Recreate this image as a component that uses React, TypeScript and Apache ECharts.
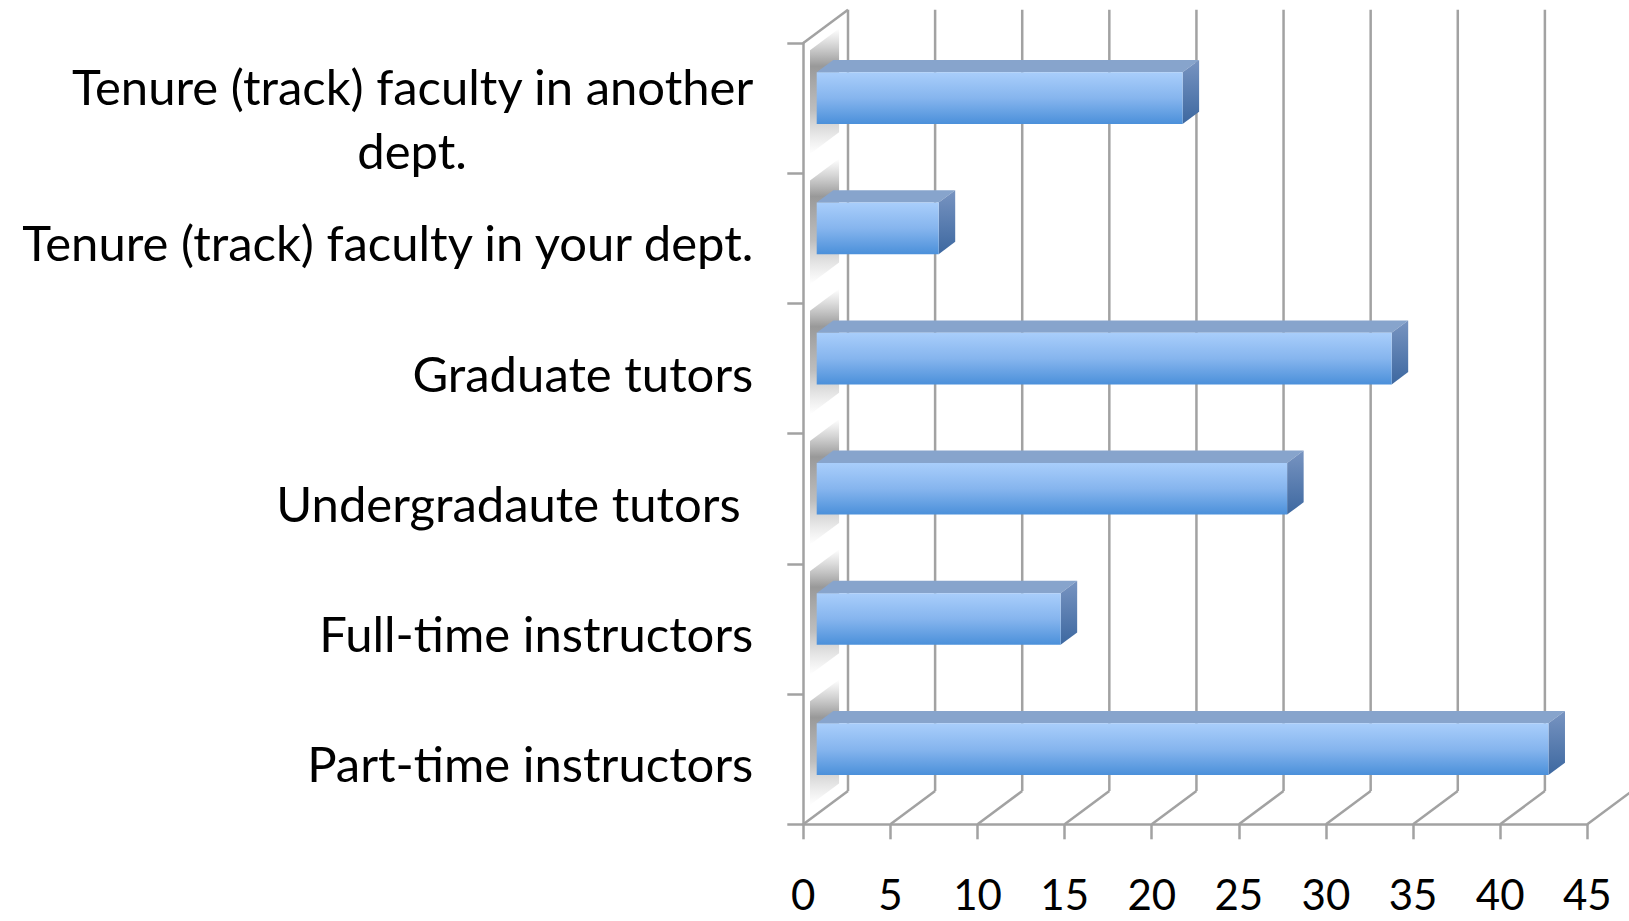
import React, { useEffect, useRef } from "react";
import * as echarts from "echarts";

const categories = [
  "Tenure (track) faculty in another\ndept.",
  "Tenure (track) faculty in your dept.",
  "Graduate tutors",
  "Undergradaute tutors ",
  "Full-time instructors",
  "Part-time instructors",
];
const values = [21, 7, 33, 27, 14, 42];
const xTicks = [0, 5, 10, 15, 20, 25, 30, 35, 40, 45];

const DX = 44.7;
const DY = -33.3;
const F_FRONT = 0.3;
const F_BACK = 0.67;
const BAR_RATIO = 0.397;
const GRID_COLOR = "#a2a2a2";
const FONT = "Lato";
const CAT_SIZE = 49;

export default function App() {
  const ref = useRef<HTMLDivElement>(null);
  useEffect(() => {
    if (!ref.current) return;
    const chart = echarts.init(ref.current, null, { renderer: "svg" });

    const gridRender = (params: any, api: any) => {
      const v = api.value(0);
      const cs = params.coordSys;
      const p = api.coord([v, 0]);
      const x = p[0];
      const top = cs.y;
      const bottom = cs.y + cs.height;
      const st = { stroke: GRID_COLOR, lineWidth: 2.5 };
      const children: any[] = [
        { type: "line", shape: { x1: x + DX, y1: top + DY, x2: x + DX, y2: bottom + DY }, style: st },
        { type: "line", shape: { x1: x, y1: bottom, x2: x + DX, y2: bottom + DY }, style: st },
      ];
      if (v === 0) {
        children.push({ type: "line", shape: { x1: x, y1: top, x2: x + DX, y2: top + DY }, style: st });
      }
      return { type: "group", children };
    };

    const barRender = (params: any, api: any) => {
      const v = api.value(0);
      const c = api.value(1);
      const p0 = api.coord([0, c]);
      const p1 = api.coord([v, c]);
      const band = api.size([0, 1])[1];
      const h = (band * BAR_RATIO) / 2;
      const yT = p0[1] - h;
      const yB = p0[1] + h;
      const xa = p0[0];
      const xb = p1[0];
      const fx = DX * F_FRONT, fy = DY * F_FRONT;
      const bx = DX * F_BACK, by = DY * F_BACK;
      const s1 = 0.15, s2 = 0.8;
      return {
        type: "group",
        children: [
          {
            type: "polygon",
            shape: {
              points: [
                [xa + DX * s1, yT - 27 + DY * s1],
                [xa + DX * s2, yT - 27 + DY * s2],
                [xa + DX * s2, yB + 25 + DY * s2],
                [xa + DX * s1, yB + 25 + DY * s1],
              ],
            },
            style: {
              fill: new echarts.graphic.LinearGradient(0, 0, 0, 1, [
                { offset: 0, color: "rgba(110,110,110,0)" },
                { offset: 0.3, color: "rgba(90,90,90,0.62)" },
                { offset: 0.65, color: "rgba(110,110,110,0.45)" },
                { offset: 1, color: "rgba(150,150,150,0)" },
              ]),
            },
          },
          {
            type: "polygon",
            shape: {
              points: [
                [xa + fx, yT + fy],
                [xb + fx, yT + fy],
                [xb + bx, yT + by],
                [xa + bx, yT + by],
              ],
            },
            style: { fill: "#87a4cc" },
          },
          {
            type: "polygon",
            shape: {
              points: [
                [xb + fx, yT + fy],
                [xb + bx, yT + by],
                [xb + bx, yB + by],
                [xb + fx, yB + fy],
              ],
            },
            style: {
              fill: new echarts.graphic.LinearGradient(0, 0, 0, 1, [
                { offset: 0, color: "#7894c1" },
                { offset: 1, color: "#3d68a0" },
              ]),
            },
          },
          {
            type: "rect",
            shape: { x: xa + fx, y: yT + fy, width: xb - xa, height: yB - yT },
            style: {
              fill: new echarts.graphic.LinearGradient(0, 0, 0, 1, [
                { offset: 0, color: "#a9cefb" },
                { offset: 0.5, color: "#86b5ee" },
                { offset: 1, color: "#4b90da" },
              ]),
            },
          },
        ],
      };
    };

    chart.setOption({
      animation: false,
      backgroundColor: "#ffffff",
      grid: {
        left: 803.3,
        right: 41.7,
        top: 43,
        bottom: 96.7,
        containLabel: false,
        outerBoundsMode: "none",
      },
      xAxis: {
        type: "value",
        min: 0,
        max: 45,
        interval: 5,
        splitLine: { show: false },
        axisLine: { show: true, lineStyle: { color: GRID_COLOR, width: 2.5 } },
        axisTick: { show: true, length: 15, lineStyle: { color: GRID_COLOR, width: 2.5 } },
        axisLabel: {
          margin: 52,
          color: "#000",
          fontSize: 42,
          lineHeight: 36,
          fontFamily: FONT,
          formatter: (v: number) => String(v),
        },
      },
      yAxis: {
        type: "category",
        inverse: true,
        data: categories.map((c, i) =>
          i === 0
            ? { value: c, textStyle: { padding: [20, 0, 0, 0] } }
            : { value: c, textStyle: { padding: [8, 0, 0, 0] } }
        ),
        axisLine: { show: true, lineStyle: { color: GRID_COLOR, width: 2.5 } },
        axisTick: { show: true, length: 16, lineStyle: { color: GRID_COLOR, width: 2.5 } },
        splitLine: { show: false },
        axisLabel: {
          margin: 50,
          color: "#000",
          fontSize: CAT_SIZE,
          fontFamily: FONT,
          lineHeight: 64,
          formatter: (v: string) => {
            if (v.indexOf("\n") >= 0) {
              const parts = v.split("\n");
              return "{a|" + parts[0] + "}\n{c|" + parts[1] + "}";
            }
            return v;
          },
          rich: {
            a: { fontSize: CAT_SIZE, fontFamily: FONT, color: "#000", lineHeight: 64, align: "right" },
            c: { fontSize: CAT_SIZE, fontFamily: FONT, color: "#000", lineHeight: 64, align: "center" },
          },
        },
      },
      series: [
        {
          type: "custom",
          name: "grid",
          data: xTicks.map((t) => [t, 0]),
          renderItem: gridRender,
          clip: false,
          silent: true,
          z: 1,
        },
        {
          type: "custom",
          name: "bars",
          data: values.map((v, i) => [v, i]),
          encode: { x: 0, y: 1 },
          renderItem: barRender,
          clip: false,
          z: 2,
        },
      ],
    });
    return () => chart.dispose();
  }, []);

  return (
    <div
      ref={ref}
      style={{ position: "fixed", left: 0, top: 0, width: 1629, height: 921, background: "#fff" }}
    />
  );
}
